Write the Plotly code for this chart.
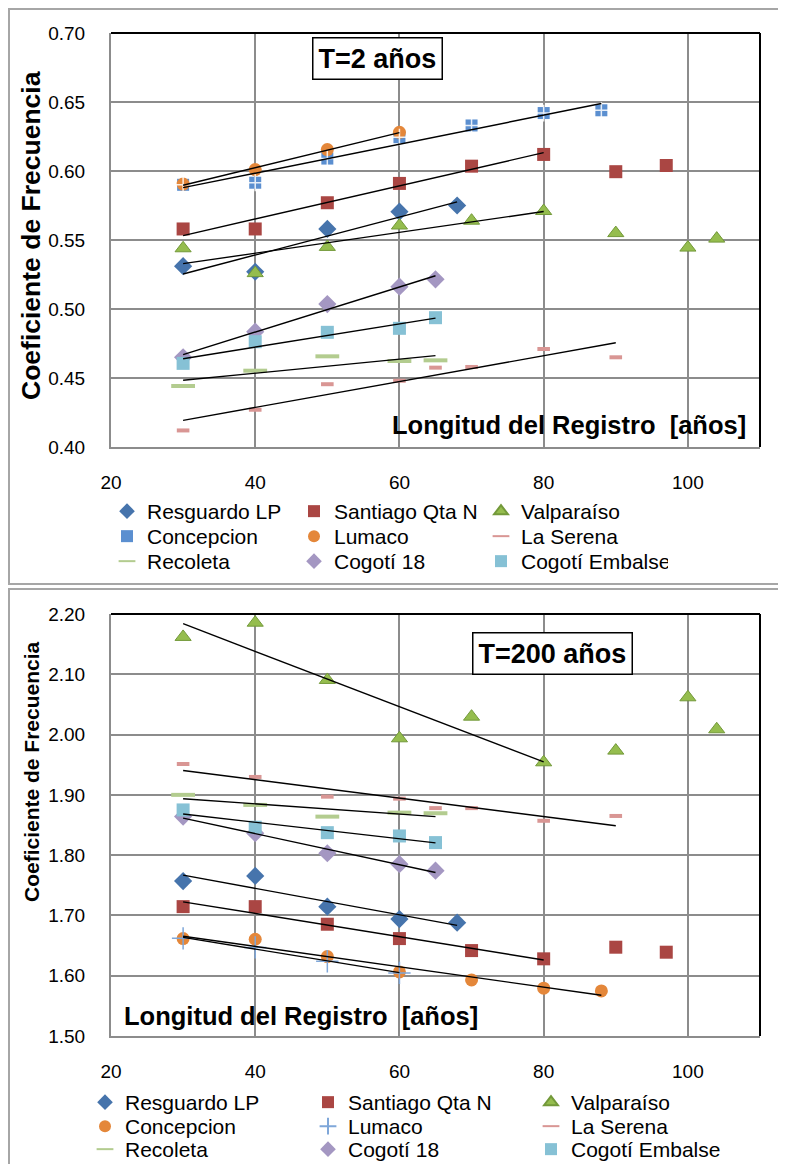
import numpy as np
import plotly.graph_objects as go

# ---------------- data ----------------
series_names = ["Resguardo LP", "Santiago Qta N", "Valparaíso", "Concepcion", "Lumaco",
                "La Serena", "Recoleta", "Cogotí 18", "Cogotí Embalse"]

# T = 2 años
t2_resguardo_x = [30, 40, 50, 60, 68]
t2_resguardo_y = [0.531, 0.527, 0.558, 0.5705, 0.575]
t2_santiago_x = [30, 40, 50, 60, 70, 80, 90, 97]
t2_santiago_y = [0.558, 0.558, 0.577, 0.591, 0.6035, 0.612, 0.5995, 0.604]
t2_valparaiso_x = [30, 40, 50, 60, 70, 80, 90, 100, 104]
t2_valparaiso_y = [0.544, 0.526, 0.545, 0.5605, 0.564, 0.571, 0.555, 0.5445, 0.551]
t2_concepcion_x = [30, 40, 50, 60, 70, 80, 88]
t2_concepcion_y = [0.590, 0.5915, 0.609, 0.6245, 0.633, 0.642, 0.644]
t2_lumaco_x = [30, 40, 50, 60]
t2_lumaco_y = [0.5905, 0.601, 0.6155, 0.628]
t2_laserena_x = [30, 40, 50, 60, 65, 70, 80, 90]
t2_laserena_y = [0.412, 0.427, 0.4455, 0.448, 0.4575, 0.458, 0.471, 0.465]
t2_recoleta_x = [30, 40, 50, 60, 65]
t2_recoleta_y = [0.4442, 0.4553, 0.4657, 0.4623, 0.4628]
t2_cogoti18_x = [30, 40, 50, 60, 65]
t2_cogoti18_y = [0.465, 0.4836, 0.5036, 0.5162, 0.5215]
t2_cogotiemb_x = [30, 40, 50, 60, 65]
t2_cogotiemb_y = [0.4606, 0.4763, 0.4831, 0.486, 0.4937]

# T = 200 años
t200_resguardo_x = [30, 40, 50, 60, 68]
t200_resguardo_y = [1.757, 1.7655, 1.7146, 1.694, 1.688]
t200_santiago_x = [30, 40, 50, 60, 70, 80, 90, 97]
t200_santiago_y = [1.7146, 1.7146, 1.6854, 1.6616, 1.6417, 1.628, 1.6473, 1.639]
t200_valparaiso_x = [30, 40, 50, 60, 70, 80, 90, 100, 104]
t200_valparaiso_y = [2.162, 2.1856, 2.0906, 1.9938, 2.0297, 1.954, 1.9734, 2.0618, 2.0088]
t200_concepcion_x = [30, 40, 50, 60, 70, 80, 88]
t200_concepcion_y = [1.6616, 1.6605, 1.6317, 1.6063, 1.593, 1.5793, 1.5748]
t200_lumaco_x = [30, 40, 50, 60]
t200_lumaco_y = [1.662, 1.647, 1.624, 1.6047]
t200_laserena_x = [30, 40, 50, 60, 65, 70, 80, 90]
t200_laserena_y = [1.9512, 1.9297, 1.897, 1.8937, 1.878, 1.878, 1.857, 1.865]
t200_recoleta_x = [30, 40, 50, 60, 65]
t200_recoleta_y = [1.900, 1.8833, 1.8639, 1.8705, 1.8695]
t200_cogoti18_x = [30, 40, 50, 60, 65]
t200_cogoti18_y = [1.8639, 1.8363, 1.8031, 1.785, 1.7743]
t200_cogotiemb_x = [30, 40, 50, 60, 65]
t200_cogotiemb_y = [1.875, 1.8463, 1.8373, 1.8318, 1.8208]

# upper limit of record length used for each linear trend line
trend_xmax = [68, 80, 80, 88, 60, 90, 65, 65, 65]

x_ticks = [20, 40, 60, 80, 100]

# ---------------- layout helpers ----------------
OFF = 8                      # page body margin of the html page
W, H = 778, 1156
ML, MR = 52, 16
GW = W - ML - MR
FONT = "Liberation Sans, Arial, sans-serif"


def px_x(p):
    return (p - OFF - ML) / GW


def px_y(p):
    return 1 - (p - OFF) / H


blue_d = "#4674AC"
red = "#AA4643"
green = "#95BD4E"
green_l = "#73993A"
orange = "#E4873A"
blue_l = "#5B8FD0"
plus_blue = "#7FA7D9"
pink = "#D99694"
lgreen = "#B3CC8F"
purple = "#A497C2"
cyan = "#86C1D5"


def mk(symbol, color, size=13, line_color=None, line_width=0):
    return dict(symbol=symbol, color=color, size=size,
                line=dict(color=line_color or color, width=line_width))


styles_t2 = [
    mk("diamond", blue_d, 14),
    mk("square", red, 13),
    mk("triangle-up", green, 14, green_l, 1),
    mk("square", blue_l, 12),
    mk("circle", orange, 13),
    mk("line-ew", pink, 9, pink, 4),
    mk("line-ew", lgreen, 17, lgreen, 4),
    mk("diamond", purple, 14),
    mk("square", cyan, 13),
]
styles_t200 = [
    mk("diamond", blue_d, 14),
    mk("square", red, 13),
    mk("triangle-up", green, 14, green_l, 1),
    mk("circle", orange, 13),
    mk("cross-thin", plus_blue, 16, plus_blue, 1.5),
    mk("line-ew", pink, 9, pink, 4),
    mk("line-ew", lgreen, 17, lgreen, 4),
    mk("diamond", purple, 14),
    mk("square", cyan, 13),
]

data_t2 = [(t2_resguardo_x, t2_resguardo_y), (t2_santiago_x, t2_santiago_y),
           (t2_valparaiso_x, t2_valparaiso_y), (t2_concepcion_x, t2_concepcion_y),
           (t2_lumaco_x, t2_lumaco_y), (t2_laserena_x, t2_laserena_y),
           (t2_recoleta_x, t2_recoleta_y), (t2_cogoti18_x, t2_cogoti18_y),
           (t2_cogotiemb_x, t2_cogotiemb_y)]
data_t200 = [(t200_resguardo_x, t200_resguardo_y), (t200_santiago_x, t200_santiago_y),
             (t200_valparaiso_x, t200_valparaiso_y), (t200_concepcion_x, t200_concepcion_y),
             (t200_lumaco_x, t200_lumaco_y), (t200_laserena_x, t200_laserena_y),
             (t200_recoleta_x, t200_recoleta_y), (t200_cogoti18_x, t200_cogoti18_y),
             (t200_cogotiemb_x, t200_cogotiemb_y)]

fig = go.Figure()


def add_panel(data, styles, xa, ya, legends, cross_overlay):
    for i, (name, (xs, ys), st) in enumerate(zip(series_names, data, styles)):
        fig.add_trace(go.Scatter(x=xs, y=ys, mode="markers", name=name, marker=st,
                                 xaxis=xa, yaxis=ya, legend=legends[i // 3], cliponaxis=False))
    if cross_overlay:
        # white cross over the Concepcion squares (T=2 panel)
        xs, ys = data[3]
        fig.add_trace(go.Scatter(x=xs, y=ys, mode="markers", showlegend=False,
                                 marker=dict(symbol="cross-thin", size=12,
                                             line=dict(color="rgba(255,255,255,0.85)", width=1.5)),
                                 xaxis=xa, yaxis=ya, hoverinfo="skip"))
    for (xs, ys), xmax in zip(data, trend_xmax):
        xa_ = np.array(xs, float)
        ya_ = np.array(ys, float)
        m = xa_ <= xmax
        k, b = np.polyfit(xa_[m], ya_[m], 1)
        xt = np.array([xa_[m].min(), xa_[m].max()])
        fig.add_trace(go.Scatter(x=xt, y=k * xt + b, mode="lines", showlegend=False,
                                 line=dict(color="black", width=1.4),
                                 xaxis=xa, yaxis=ya, hoverinfo="skip"))


add_panel(data_t2, styles_t2, "x", "y", ["legend", "legend2", "legend3"], True)
add_panel(data_t200, styles_t200, "x2", "y2", ["legend4", "legend5", "legend6"], False)

grid = "#8C8C8C"
xdom = [px_x(111), px_x(760)]
axis_common = dict(showgrid=True, gridcolor=grid, gridwidth=2, showline=True,
                   linecolor=grid, linewidth=2, zeroline=False, ticks="", automargin=False,
                   tickfont=dict(family=FONT, size=19, color="black"))


def legend_row(x_px, row_center_px, entrywidth):
    return dict(orientation="h", x=px_x(x_px), xanchor="left",
                y=px_y(row_center_px - 21), yanchor="top",
                font=dict(family=FONT, size=21, color="black"), entrywidth=entrywidth,
                entrywidthmode="pixels", itemsizing="constant", bgcolor="rgba(0,0,0,0)",
                traceorder="normal")


fig.update_layout(
    width=W, height=H, margin=dict(l=ML, r=MR, t=0, b=0, autoexpand=False),
    paper_bgcolor="white", plot_bgcolor="white",
    font=dict(family=FONT, color="black"),
    xaxis=dict(domain=xdom, range=[20, 110], tickvals=x_ticks, anchor="y",
               ticklabelstandoff=17, **axis_common),
    yaxis=dict(domain=[px_y(447), px_y(33)], range=[0.40, 0.70], dtick=0.05, tick0=0.40,
               tickformat=".2f", anchor="x", ticklabelstandoff=20, **axis_common),
    xaxis2=dict(domain=xdom, range=[20, 110], tickvals=x_ticks, anchor="y2",
                ticklabelstandoff=17, **axis_common),
    yaxis2=dict(domain=[px_y(1036), px_y(614)], range=[1.50, 2.20], dtick=0.1, tick0=1.5,
                tickformat=".2f", anchor="x2", ticklabelstandoff=20, **axis_common),
    legend=legend_row(107, 512, 142),
    legend2=legend_row(107, 537, 142),
    legend3=legend_row(107, 562, 142),
    legend4=legend_row(85, 1103, 178),
    legend5=legend_row(85, 1127, 178),
    legend6=legend_row(85, 1150, 178),
    showlegend=True,
)

shapes = []
for xr, yr in (("x", "y"), ("x2", "y2")):
    shapes.append(dict(type="line", xref=f"{xr} domain", yref=f"{yr} domain",
                       x0=0, x1=1, y0=1, y1=1, line=dict(color="black", width=2), layer="above"))
    shapes.append(dict(type="line", xref=f"{xr} domain", yref=f"{yr} domain",
                       x0=1, x1=1, y0=0, y1=1, line=dict(color="black", width=2), layer="above"))
shapes.append(dict(type="rect", xref="paper", yref="paper", x0=px_x(9), x1=px_x(800),
                   y0=px_y(584), y1=px_y(9), line=dict(color="#A6A6A6", width=2), layer="below"))
shapes.append(dict(type="rect", xref="paper", yref="paper", x0=px_x(9), x1=px_x(800),
                   y0=px_y(1180), y1=px_y(589), line=dict(color="#A6A6A6", width=2), layer="below"))
fig.update_layout(shapes=shapes)

box = dict(showarrow=False, bordercolor="black", borderwidth=1.5, borderpad=5, bgcolor="white",
           xanchor="center", yanchor="middle",
           font=dict(family=FONT, size=27, color="black"))
label_font = dict(family=FONT, size=25.5, color="black")
ann = [
    dict(text="<b>T=2 años</b>", x=57, y=0.6817, xref="x", yref="y", **box),
    dict(text="<b>T=200 años</b>", x=81.2, y=2.134, xref="x2", yref="y2", **box),
    dict(text="<b>Longitud del Registro  [años]</b>", x=108.3, y=0.416, xref="x", yref="y",
         xanchor="right", yanchor="middle", showarrow=False, font=label_font),
    dict(text="<b>Longitud del Registro  [años]</b>", x=21.5, y=1.533, xref="x2", yref="y2",
         xanchor="left", yanchor="middle", showarrow=False, font=label_font),
    dict(text="<b>Coeficiente de Frecuencia</b>", x=px_x(31), y=px_y(236), xref="paper",
         yref="paper", textangle=-90, showarrow=False, xanchor="center", yanchor="middle",
         font=dict(family=FONT, size=26.5, color="black")),
    dict(text="<b>Coeficiente de Frecuencia</b>", x=px_x(31), y=px_y(772), xref="paper",
         yref="paper", textangle=-90, showarrow=False, xanchor="center", yanchor="middle",
         font=dict(family=FONT, size=21, color="black")),
]
fig.update_layout(annotations=ann)

fig.write_html("out.html")
